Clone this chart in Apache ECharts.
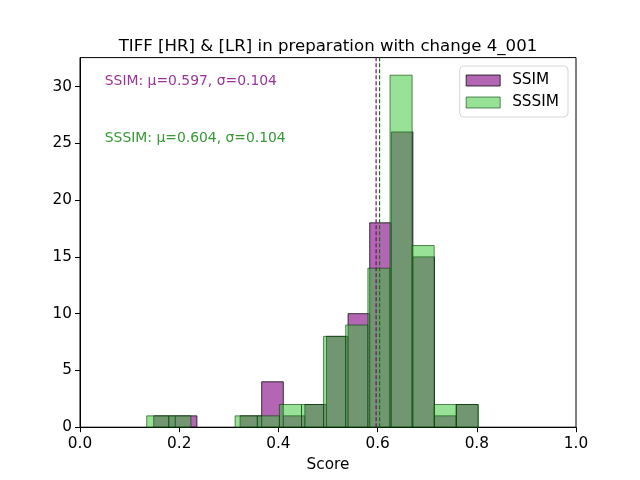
<!DOCTYPE html>
<html>
<head>
<meta charset="utf-8">
<script src="https://cdn.jsdelivr.net/npm/echarts@6/dist/echarts.min.js"></script>
<style>
	html, body { margin: 0; padding: 0; background: #fff; }
	#chart { width: 640px; height: 480px; }
</style>
</head>
<body>
<div id="chart"></div>
<script>
// bin edges and counts
var ssimEdges = [0.1486, 0.1921, 0.2357, 0.2792, 0.3228, 0.3663, 0.4099, 0.4534, 0.4970, 0.5405, 0.5841, 0.6276, 0.6712, 0.7147, 0.7583, 0.8018];
var ssimCounts = [1, 1, 0, 0, 1, 4, 1, 2, 8, 10, 18, 26, 15, 1, 2];
var sssimEdges = [0.1345, 0.1790, 0.2236, 0.2681, 0.3127, 0.3575, 0.4020, 0.4466, 0.4911, 0.5357, 0.5804, 0.6250, 0.6696, 0.7141, 0.7589, 0.8034];
var sssimCounts = [1, 1, 0, 0, 1, 1, 2, 2, 8, 9, 14, 31, 16, 2, 2];

var ssimMean = 0.597, ssimStd = 0.104;
var sssimMean = 0.604, sssimStd = 0.104;

var yTicks = [0, 5, 10, 15, 20, 25, 30];

var FONT = 'DejaVu Sans';

var toBins = function(edges, counts) {
	var out = [];
	counts.map(function(c, i) {
		if (c > 0) {
			out.push([edges[i], edges[i + 1], c]);
		}
	});
	return out;
};

var renderBar = function(params, api) {
	var p0 = api.coord([api.value(0), api.value(2)]);
	var p1 = api.coord([api.value(1), 0]);
	return {
		type: 'rect',
		shape: { x: p0[0], y: p0[1], width: p1[0] - p0[0], height: p1[1] - p0[1] },
		style: api.style()
	};
};

var textSeries = function(name, y, text, color) {
	return {
		name: name,
		type: 'scatter',
		symbolSize: 0,
		silent: true,
		data: [[0.05, y]],
		label: {
			show: true, position: 'right', distance: 0, offset: [0, -5],
			formatter: text,
			fontFamily: FONT, fontSize: 13.9, color: color
		},
		z: 5
	};
};

var ec = echarts.init(document.getElementById('chart'));

var option = {
	animation: false,
	title: {
		text: 'TIFF [HR] & [LR] in preparation with change 4_001',
		left: 323,
		textAlign: 'center',
		top: 33,
		textStyle: { fontFamily: FONT, fontSize: 16.6, fontWeight: 'normal', color: '#000' }
	},
	legend: {
		data: ['SSIM', 'SSSIM'],
		orient: 'vertical',
		right: 72,
		top: 66,
		padding: [7, 9, 7, 6],
		itemGap: 7,
		itemWidth: 34,
		itemHeight: 11,
		icon: 'rect',
		itemStyle: { borderWidth: 1 },
		backgroundColor: '#fff',
		borderColor: '#d6d6d6',
		borderWidth: 1,
		borderRadius: 4,
		textStyle: { fontFamily: FONT, fontSize: 15.3, color: '#000', padding: [0, 0, 0, 7] }
	},
	grid: {
		left: 80,
		right: 64,
		top: 57.6,
		bottom: 52.8,
		show: true,
		borderColor: '#000',
		borderWidth: 1
	},
	xAxis: {
		type: 'value',
		min: 0,
		max: 1,
		interval: 0.2,
		name: 'Score',
		nameLocation: 'middle',
		nameGap: 30,
		nameTextStyle: { fontFamily: FONT, fontSize: 15.3, color: '#000' },
		axisLine: { show: true, onZero: false, lineStyle: { color: '#000' } },
		axisTick: { show: true, length: 5, lineStyle: { color: '#000' } },
		axisLabel: {
			fontFamily: FONT, fontSize: 15.3, color: '#000', margin: 9,
			formatter: function(v) { return v.toFixed(1); }
		},
		splitLine: { show: false }
	},
	yAxis: {
		type: 'value',
		min: 0,
		max: 32.55,
		axisLine: { show: true, lineStyle: { color: '#000' } },
		axisTick: { show: true, length: 5, customValues: yTicks, lineStyle: { color: '#000' } },
		axisLabel: { fontFamily: FONT, fontSize: 15.3, color: '#000', margin: 8, customValues: yTicks },
		splitLine: { show: false }
	},
	series: [{
		name: 'SSIM',
		type: 'custom',
		renderItem: renderBar,
		encode: { x: [0, 1], y: 2 },
		itemStyle: { color: 'rgba(128,0,128,0.6)', borderColor: 'rgba(0,0,0,0.75)', borderWidth: 1 },
		data: toBins(ssimEdges, ssimCounts),
		z: 2
	}, {
		name: 'SSSIM',
		type: 'custom',
		renderItem: renderBar,
		encode: { x: [0, 1], y: 2 },
		itemStyle: { color: 'rgba(49,197,49,0.5)', borderColor: 'rgba(0,60,0,0.6)', borderWidth: 1 },
		data: toBins(sssimEdges, sssimCounts),
		z: 3
	},
	textSeries('ssimText', 30, 'SSIM: μ=' + ssimMean.toFixed(3) + ', σ=' + ssimStd.toFixed(3), '#800080'),
	textSeries('sssimText', 25, 'SSSIM: μ=' + sssimMean.toFixed(3) + ', σ=' + sssimStd.toFixed(3), '#008000'),
	{
		name: 'ssimMean',
		type: 'line',
		silent: true,
		symbol: 'none',
		lineStyle: { color: '#800080', type: [4, 2], width: 1.2 },
		data: [[ssimMean, 0], [ssimMean, 32.55]],
		z: 6
	}, {
		name: 'sssimMean',
		type: 'line',
		silent: true,
		symbol: 'none',
		lineStyle: { color: '#008000', type: [4, 2], width: 1.2 },
		data: [[sssimMean, 0], [sssimMean, 32.55]],
		z: 6
	}]
};

ec.setOption(option);
</script>
</body>
</html>
